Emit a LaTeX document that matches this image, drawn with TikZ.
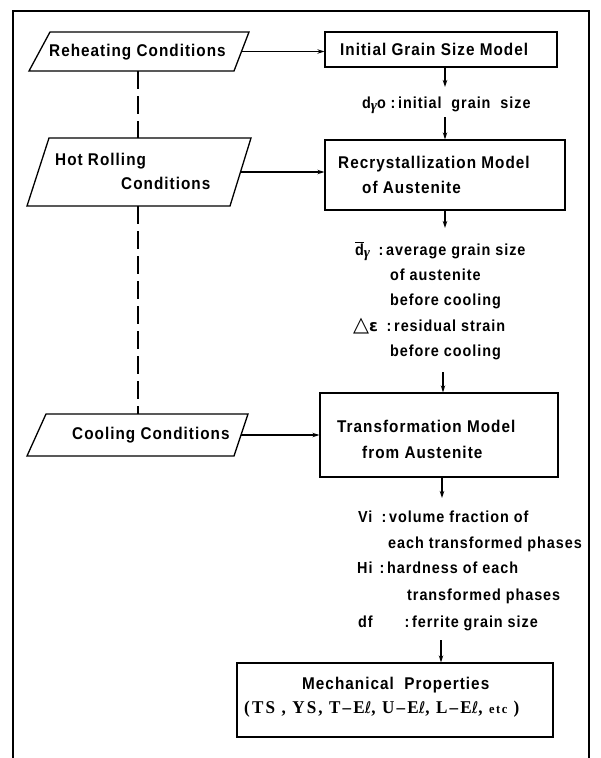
\documentclass[tikz,border=0pt]{standalone}
\usepackage{fontspec}
\setmainfont{Liberation Sans}[FakeStretch=0.9,LetterSpace=6]
\newfontfamily\boxf{Liberation Sans}[FakeStretch=0.9,LetterSpace=6]
\newfontfamily\serifb{Liberation Serif}[FakeStretch=0.95,LetterSpace=12]
\newfontfamily\grk{Liberation Serif}
\newfontfamily\symf{DejaVu Sans}
\usetikzlibrary{arrows.meta}
\newcommand{\gsub}{\raisebox{-2pt}{\fontsize{15}{15}\selectfont\grk\itshape γ}}
\newcommand{\ellc}{{\symf\mdseries\upshape\fontsize{16}{16}\selectfont ℓ}}
\begin{document}
\begin{tikzpicture}[x=1pt,y=-1pt,
  txt/.style={anchor=base west,inner sep=0pt,font=\fontsize{16}{19}\selectfont\bfseries},
  btxt/.style={anchor=base west,inner sep=0pt,font=\fontsize{17}{20}\selectfont\boxf\bfseries},
  boxx/.style={draw,line width=1.3pt,rectangle,inner sep=0pt},
  paraline/.style={line width=1.3pt,line join=miter},
  arr/.style={line width=1.1pt,-{Stealth[length=7pt,width=4.5pt]}},
  dsh/.style={line width=1.3pt,dash pattern=on 18pt off 7pt}]
\useasboundingbox (0,0) rectangle (600,758);
\fill[white] (0,0) rectangle (600,758);
% frame
\draw[line width=1.5pt] (13,758) -- (13,11) -- (589,11) -- (589,758);

% parallelograms (drawn shapes with named edge points)
\draw[paraline] (29,71) -- (50,32) -- (249,32) -- (234,71) -- cycle;
\coordinate (rehE) at (241.5,51.5);
\coordinate (rehS) at (138,71);
\draw[paraline] (27,206) -- (49,138) -- (251,138) -- (230,206) -- cycle;
\coordinate (hotE) at (240.5,172);
\coordinate (hotN) at (138,138);
\coordinate (hotS) at (138,206);
\draw[paraline] (27,456) -- (46,414) -- (248,414) -- (234,456) -- cycle;
\coordinate (coolE) at (241,435);
\coordinate (coolN) at (138,414);

\node[btxt] (rehT) at (49,56) {Reheating Conditions};
\node[btxt] (hotT1) at (55,165) {Hot Rolling};
\node[btxt] (hotT2) at (121,189) {Conditions};
\node[btxt] (coolT) at (72,439) {Cooling Conditions};

% boxes
\node[boxx,minimum width=232pt,minimum height=35pt] (init) at (441,49.5) {};
\node[boxx,minimum width=240pt,minimum height=70pt] (rec) at (445,175) {};
\node[boxx,minimum width=238pt,minimum height=84pt] (tra) at (439,435) {};
\node[boxx,minimum width=316pt,minimum height=74pt] (mech) at (395,700) {};
\node[btxt] (initT) at (340,55) {Initial Grain Size Model};
\node[btxt] (recT1) at (338,168) {Recrystallization Model};
\node[btxt] (recT2) at (362,193) {of Austenite};
\node[btxt] (traT1) at (337,432) {Transformation Model};
\node[btxt] (traT2) at (362,458) {from Austenite};
\node[btxt] (mechT1) at (302,689) {Mechanical\ \ Properties};
\node[btxt,font=\fontsize{18}{20}\selectfont\serifb\bfseries] (mechT2) at (244,713) {(TS , YS, T\textendash E\ellc, U\textendash E\ellc , L\textendash E\ellc, {\fontsize{13}{14}\selectfont etc} )};

% labels
\node[txt] (l0) at (362,108) {\makebox[36pt][l]{d\gsub o\hfill:\,}initial\ \ grain\ \ size};
\node[txt] (l1) at (355,255) {\makebox[31pt][l]{$\overline{\hbox{d}}$\gsub\hfill:\,}average grain size};
\node[txt] (l2) at (390,280) {of austenite};
\node[txt] (l3) at (390,305) {before cooling};
\node[txt] (l4) at (353,331) {\makebox[41pt][l]{\scalebox{1.3}{\symf △}{\symf ε}\hfill:\,}residual strain};
\node[txt] (l5) at (390,356) {before cooling};
\node[txt] (v0) at (358,522) {\makebox[31pt][l]{Vi\hfill:\,}volume fraction of};
\node[txt] (v1) at (388,548) {each transformed phases};
\node[txt] (v2) at (357,573) {\makebox[30pt][l]{Hi\hfill:\,}hardness of each};
\node[txt] (v3) at (407,600) {transformed phases};
\node[txt] (v4) at (358,627) {\makebox[54pt][l]{df\hfill:\,}ferrite grain size};

% arrow end points
\coordinate (a1) at (445,87);
\coordinate (a2s) at (445,117);
\coordinate (a3) at (445,228);
\coordinate (a4s) at (443,372);
\coordinate (a5) at (442,498);
\coordinate (a6s) at (441,640);

% connectors
\draw[arr] (rehE) -- (rehE -| init.west);
\draw[arr] (hotE) -- (hotE -| rec.west);
\draw[arr] (coolE) -- (coolE -| tra.west);
\draw[arr] (init.south -| a1) -- (a1);
\draw[arr] (a2s) -- (a2s |- rec.north);
\draw[arr] (rec.south -| a3) -- (a3);
\draw[arr] (a4s) -- (a4s |- tra.north);
\draw[arr] (tra.south -| a5) -- (a5);
\draw[arr] (a6s) -- (a6s |- mech.north);
\draw[dsh] (rehS) -- (hotN);
\draw[dsh] (hotS) -- (coolN);
\end{tikzpicture}
\end{document}
